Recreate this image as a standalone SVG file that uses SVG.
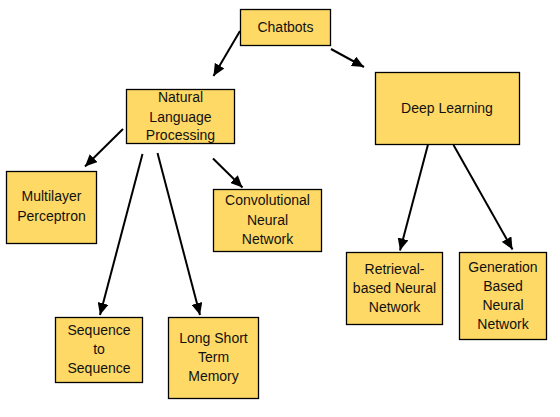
<svg xmlns="http://www.w3.org/2000/svg" width="560" height="417" viewBox="0 0 560 417">
<style>
.box{fill:#FFD966;stroke:#000;stroke-width:1.3}
.t{font-family:"Liberation Sans",Arial,sans-serif;font-size:14px;fill:#111;text-anchor:middle}
.c{stroke:#000;stroke-width:2;fill:none;marker-end:url(#ah)}
</style>
<defs>
<marker id="ah" markerUnits="userSpaceOnUse" markerWidth="13" markerHeight="11" refX="12" refY="5.5" orient="auto">
<path d="M0,0 L12,5.5 L0,11 Z" fill="#000"/>
</marker>
</defs>
<rect width="560" height="417" fill="#fff"/>
<g id="connectors">
<line class="c" x1="240" y1="31" x2="213.5" y2="76"/>
<line class="c" x1="331" y1="49" x2="364" y2="67"/>
<line class="c" x1="123" y1="129" x2="85" y2="166.5"/>
<line class="c" x1="142.5" y1="154" x2="100" y2="315"/>
<line class="c" x1="157.5" y1="153" x2="200" y2="315"/>
<line class="c" x1="213" y1="158.5" x2="242.5" y2="187.5"/>
<line class="c" x1="428" y1="144.5" x2="400" y2="250.5"/>
<line class="c" x1="453.5" y1="145" x2="512.5" y2="249.5"/>
</g>
<g id="chatbots"><rect class="box" x="240.5" y="9.5" width="90" height="36"/><text class="t" x="285.5" y="32">Chatbots</text></g>
<g id="nlp"><rect class="box" x="126.5" y="89.5" width="108" height="54"/><text class="t" x="180.5" y="102">Natural</text><text class="t" x="180.5" y="121.5">Language</text><text class="t" x="180.5" y="140">Processing</text></g>
<g id="dl"><rect class="box" x="375.5" y="72.5" width="144" height="72"/><text class="t" x="447" y="113">Deep Learning</text></g>
<g id="mlp"><rect class="box" x="6.5" y="171.5" width="90" height="72"/><text class="t" x="51.5" y="201">Multilayer</text><text class="t" x="51.5" y="221">Perceptron</text></g>
<g id="cnn"><rect class="box" x="213.5" y="189.5" width="108" height="62"/><text class="t" x="267.5" y="205">Convolutional</text><text class="t" x="267.5" y="224.5">Neural</text><text class="t" x="267.5" y="244">Network</text></g>
<g id="seq"><rect class="box" x="55.5" y="317.5" width="87" height="65"/><text class="t" x="99" y="335">Sequence</text><text class="t" x="99" y="354">to</text><text class="t" x="99" y="373">Sequence</text></g>
<g id="lstm"><rect class="box" x="168.5" y="317.5" width="90" height="81"/><text class="t" x="213.5" y="343">Long Short</text><text class="t" x="213.5" y="362">Term</text><text class="t" x="213.5" y="381">Memory</text></g>
<g id="retrieval"><rect class="box" x="346.5" y="252.5" width="96" height="72"/><text class="t" x="394.5" y="274">Retrieval-</text><text class="t" x="394.5" y="293">based Neural</text><text class="t" x="394.5" y="311.5">Network</text></g>
<g id="generation"><rect class="box" x="459.5" y="252.5" width="87" height="87"/><text class="t" x="503" y="271.5">Generation</text><text class="t" x="503" y="291">Based</text><text class="t" x="503" y="310">Neural</text><text class="t" x="503" y="329">Network</text></g>
</svg>
